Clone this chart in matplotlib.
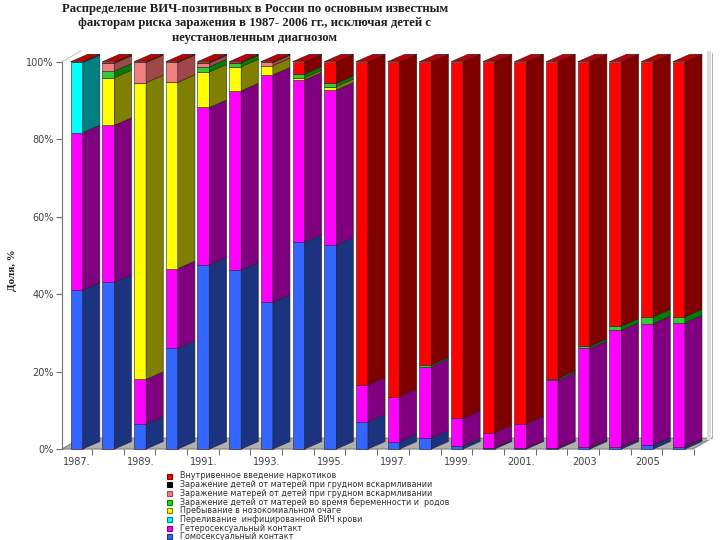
import matplotlib.pyplot as plt
from matplotlib.patches import Polygon, Rectangle

years = [str(y) for y in range(1987, 2007)]
tick_labels = ['1987.', '', '1989.', '', '1991.', '', '1993.', '', '1995.', '',
               '1997.', '', '1999.', '', '2001.', '', '2003', '', '2005', '']

# shares, % (bottom -> top of each column)
homo = [41.0, 43.0, 6.5, 26.0, 47.5, 46.2, 37.9, 53.4, 52.7, 7.0,
        1.9, 2.8, 0.8, 0.3, 0.2, 0.3, 0.4, 0.5, 1.0, 0.6]
hetero = [40.7, 40.6, 11.5, 20.6, 40.7, 46.3, 58.7, 41.9, 40.0, 9.5,
          11.6, 18.5, 7.1, 3.9, 6.3, 17.5, 25.6, 30.2, 31.4, 32.0]
transfusion = [18.1, 0, 0, 0, 0, 0, 0, 0, 0, 0,
               0, 0, 0, 0, 0, 0, 0, 0, 0, 0]
nosocomial = [0, 12.3, 76.6, 48.1, 9.2, 6.2, 2.4, 0.6, 0.9, 0,
              0, 0, 0, 0, 0, 0, 0, 0, 0, 0]
pregnancy = [0, 1.7, 0, 0, 1.3, 1.0, 0, 0.9, 0.8, 0,
             0, 0.4, 0, 0, 0, 0.4, 0.5, 1.0, 1.7, 1.5]
mothers_bf = [0, 2.0, 5.2, 5.1, 1.0, 0, 0.8, 0, 0, 0,
              0, 0, 0, 0, 0, 0, 0, 0, 0, 0]
children_bf = [0, 0, 0, 0, 0, 0, 0, 0, 0, 0,
               0, 0, 0, 0, 0, 0, 0, 0, 0, 0]
idu = [0.2, 0.4, 0.2, 0.2, 0.3, 0.3, 0.2, 3.2, 5.6, 83.5,
       86.5, 78.3, 92.1, 95.8, 93.5, 81.8, 73.5, 68.3, 65.9, 65.9]

series = [homo, hetero, transfusion, nosocomial, pregnancy, mothers_bf, children_bf, idu]
labels = ['Гомосексуальный контакт',
          'Гетеросексуальный контакт',
          'Переливание  инфицированной ВИЧ крови',
          'Пребывание в нозокомиальном очаге',
          'Заражение детей от матерей во время беременности и  родов',
          'Заражение матерей от детей при грудном вскармливании',
          'Заражение детей от матерей при грудном вскармливании',
          'Внутривенное введение наркотиков']
front = ['#3366ff', '#ff00ff', '#00ffff', '#ffff00', '#33cc33', '#f08080', '#000000', '#ff0000']
side = ['#1c3380', '#800080', '#008080', '#808000', '#008000', '#a04848', '#000000', '#800000']
top_col = '#c00000'

w, dx, dy = 0.38, 0.54, 1.93

fig = plt.figure(figsize=(7.2, 5.4), dpi=100)
ax = fig.add_axes([0.0861, 0.1685, 0.9056, 0.7172])
ax.set_xlim(-0.274, 20.3)
ax.set_ylim(0, 100)

# floor and walls
ax.add_patch(Polygon([(-0.274, 0), (19.63, 0), (20.23, 2.8), (0.33, 2.8)],
                     closed=True, facecolor='#b0b0b0', edgecolor='#808080', lw=0.8, clip_on=False, zorder=1))
ax.plot([20.15, 20.15], [2.8, 102.3], color='#dcdcdc', lw=3, clip_on=False, zorder=1)
ax.plot([20.23, 20.23], [2.8, 102.3], color='#a0a0a0', lw=0.6, clip_on=False, zorder=1)
ax.plot([-0.274, 0.33], [100, 102.8], color='#c8c8c8', lw=0.8, clip_on=False, zorder=1)

for i in range(len(years)):
    b = 0
    top_idx = max(k for k, s in enumerate(series) if s[i] > 0)
    for k, s in enumerate(series):
        v = s[i]
        if v <= 0:
            continue
        ax.bar(i, v, width=w, bottom=b, align='edge', color=front[k],
               edgecolor='#202020', lw=0.4, zorder=3, clip_on=False)
        ax.add_patch(Polygon([(i + w, b), (i + w + dx, b + dy), (i + w + dx, b + v + dy), (i + w, b + v)],
                             closed=True, facecolor=side[k], edgecolor='#202020', lw=0.4,
                             zorder=3, clip_on=False))
        b += v
    ax.add_patch(Polygon([(i, b), (i + w, b), (i + w + dx, b + dy), (i + dx, b + dy)],
                         closed=True, facecolor=top_col if top_idx == 7 else side[top_idx],
                         edgecolor='#202020', lw=0.4, zorder=3, clip_on=False))

for sp in ['top', 'right', 'bottom']:
    ax.spines[sp].set_visible(False)
ax.spines['left'].set_color('#707070')
ax.spines['left'].set_linewidth(0.8)

ax.set_yticks([0, 20, 40, 60, 80, 100])
ax.set_yticklabels(['0%', '20%', '40%', '60%', '80%', '100%'])
ax.tick_params(axis='y', length=4, color='#707070', labelsize=7, labelcolor='#404040', pad=2)

ax.set_xticks([i + 0.2 for i in range(len(years))])
ax.set_xticklabels(tick_labels)
ax.set_xticks([i - 0.33 for i in range(1, 21)], minor=True)
ax.tick_params(axis='x', which='major', length=0, labelsize=7, labelcolor='#404040', pad=6)
ax.tick_params(axis='x', which='minor', length=4, color='#505050')

fig.text(0.017, 0.50, 'Доля, %', rotation=90, ha='center', va='center',
         fontsize=8, fontweight='bold', family='Liberation Serif', color='#202020')

title = ('Распределение ВИЧ-позитивных в России по основным известным\n'
         'факторам риска заражения в 1987- 2006 гг., исключая детей с\n'
         'неустановленным диагнозом')
fig.text(0.354, 0.995, title, ha='center', va='top', fontsize=9.2, fontweight='bold',
         family='Liberation Serif', color='#202020', linespacing=1.3)

# legend (reverse order, as in the source)
for j, k in enumerate(range(7, -1, -1)):
    yy = 1 - (476 + j * 8.7) / 540
    fig.patches.append(Rectangle((167 / 720, yy - 2.5 / 540), 5 / 720, 5 / 540,
                                 transform=fig.transFigure, facecolor=front[k],
                                 edgecolor=side[k], lw=0.8))
    fig.text(180 / 720, yy, labels[k], ha='left', va='center', fontsize=5.8, color='#303030')

fig.savefig('out.png', dpi=100)
